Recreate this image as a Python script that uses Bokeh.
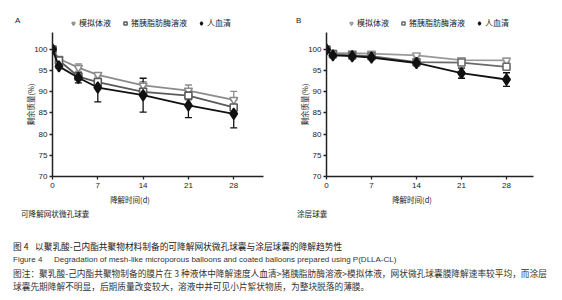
from bokeh.plotting import figure
from bokeh.models import ColumnDataSource, Whisker, Legend, LegendItem, Div, Range1d, FixedTicker, TeeHead
from bokeh.layouts import row, column
from bokeh.embed import file_html
from bokeh.resources import INLINE

days = [0, 1, 4, 7, 14, 21, 28]
series_names = ["模拟体液", "猪胰脂肪酶溶液", "人血清"]
x_ticks = [0, 7, 14, 21, 28]
y_ticks = [70, 75, 80, 85, 90, 95, 100]
x_title = "降解时间(d)"
y_title = "剩余质量(%)"

# Panel A: 可降解网状微孔球囊
a_sim = [100, 97.8, 95.7, 94.0, 91.5, 90.3, 88.1]
a_sim_err = [0, 0.4, 0.9, 0.5, 0.9, 1.3, 2.0]
a_lip = [100, 97.4, 93.6, 92.3, 90.0, 89.1, 86.3]
a_lip_err = [0, 0.4, 0.6, 0.6, 0.8, 1.0, 0.6]
a_ser = [100, 96.0, 93.3, 91.0, 89.2, 86.8, 84.8]
a_ser_err = [0, 0.4, 1.2, 3.4, 4.0, 2.9, 3.3]

# Panel B: 涂层球囊
b_sim = [100, 99.2, 99.1, 99.0, 98.6, 97.5, 97.4]
b_sim_err = [0, 0.2, 0.2, 0.2, 0.3, 0.3, 0.3]
b_lip = [100, 98.9, 98.6, 98.4, 97.0, 96.9, 95.9]
b_lip_err = [0, 0.2, 0.3, 0.3, 0.4, 0.4, 0.4]
b_ser = [100, 98.6, 98.4, 98.1, 96.8, 94.4, 92.9]
b_ser_err = [0, 0.3, 0.3, 0.4, 0.6, 1.2, 1.6]

FONT = "Noto Sans CJK SC"
TXT = "#222222"
CSS_FONT = "font-family:'Noto Sans CJK SC','Liberation Sans',sans-serif;color:#222;"


def make_panel(letter, sub, sim, sim_err, lip, lip_err, ser, ser_err,
               width, left, right, xend, sim_color, lip_color,
               letter_x, leg_x, title_x, sub_x):
    specs = [
        (sim, sim_err, sim_color, "inverted_triangle", "white", 8),
        (lip, lip_err, lip_color, "square", "white", 7),
        (ser, ser_err, "#111111", "diamond", "#111111", 11),
    ]

    # top strip: panel letter (Div) + legend (strip plot with the same series)
    letter_div = Div(width=left, height=32, margin=0, text=(
        f'<div style="{CSS_FONT}font-family:\'Liberation Sans\',sans-serif;font-size:8px;'
        f'line-height:12px;padding:15px 0 0 {letter_x}px;">{letter}</div>'))
    top = figure(width=width - left, height=32, output_backend="svg", toolbar_location=None,
                 x_axis_type=None, y_axis_type=None,
                 min_border_left=0, min_border_right=right, min_border_top=0, min_border_bottom=0,
                 x_range=Range1d(0, xend), y_range=Range1d(0, 1))
    top.outline_line_color = None
    top.grid.visible = False
    top.background_fill_color = "white"
    top.border_fill_color = "white"
    items = []
    for (vals, errs, col, mk, fill, sz), name in zip(specs, series_names):
        # series sit outside this strip's y range, so only the legend glyph shows
        r = top.scatter(x=days, y=vals, marker=mk, size=sz, fill_color=fill,
                        line_color=col, line_width=1.5)
        items.append(LegendItem(label=name, renderers=[r]))
    leg = Legend(items=items, orientation="horizontal", location=(leg_x, 4),
                 background_fill_alpha=0, border_line_color=None,
                 label_text_font=FONT, label_text_font_size="8px",
                 label_text_color=TXT, glyph_width=8, glyph_height=8,
                 label_standoff=2, spacing=10, padding=0, margin=0)
    top.add_layout(leg, "center")

    # main plot
    p = figure(width=width, height=162, output_backend="svg", toolbar_location=None,
               x_range=Range1d(0, xend), y_range=Range1d(70, 104),
               min_border_left=left, min_border_right=right,
               min_border_top=0, min_border_bottom=18)
    p.outline_line_color = None
    p.xgrid.visible = False
    p.ygrid.visible = False
    p.background_fill_color = "white"
    p.border_fill_color = "white"

    for (vals, errs, col, mk, fill, sz) in specs:
        src = ColumnDataSource(dict(
            x=days, y=vals,
            upper=[v + e for v, e in zip(vals, errs)],
            lower=[v - e for v, e in zip(vals, errs)]))
        p.line("x", "y", source=src, line_color=col, line_width=1.8)
        w = Whisker(source=src, base="x", upper="upper", lower="lower",
                    line_color=col, line_width=1.3,
                    upper_head=TeeHead(size=7, line_color=col, line_width=1.3),
                    lower_head=TeeHead(size=7, line_color=col, line_width=1.3))
        p.add_layout(w)
        p.scatter("x", "y", source=src, marker=mk, size=sz, fill_color=fill,
                  line_color=col, line_width=1.6)

    for ax in (p.xaxis[0], p.yaxis[0]):
        ax.axis_line_width = 1.5
        ax.axis_line_color = "#222222"
        ax.major_tick_line_color = "#222222"
        ax.major_tick_line_width = 1.3
        ax.major_tick_out = 3
        ax.major_tick_in = 0
        ax.minor_tick_line_color = None
        ax.major_label_text_font = "Liberation Sans"
        ax.major_label_text_font_size = "8px"
        ax.major_label_text_color = TXT
        ax.axis_label_text_font = FONT
        ax.axis_label_text_font_size = "7.5px"
        ax.axis_label_text_font_style = "normal"
        ax.axis_label_text_color = TXT
    p.xaxis.ticker = FixedTicker(ticks=x_ticks)
    p.yaxis.ticker = FixedTicker(ticks=y_ticks)
    p.yaxis.axis_label = y_title
    p.yaxis.axis_label_standoff = -5
    p.xaxis.major_label_standoff = 3
    p.yaxis.major_label_standoff = 2

    # bottom strip: x title and sub caption
    bot = Div(width=width, height=36, margin=0, text=(
        f'<div style="position:relative;width:{width}px;height:36px;{CSS_FONT}line-height:12px;">'
        f'<div style="position:absolute;left:{title_x - 40}px;top:0px;width:80px;text-align:center;font-size:7.5px;">{x_title}</div>'
        f'<div style="position:absolute;left:{sub_x}px;top:14px;white-space:nowrap;font-size:7.6px;">{sub}</div>'
        f'</div>'))
    return column(row(letter_div, top), p, bot)


pA = make_panel("A", "可降解网状微孔球囊", a_sim, a_sim_err, a_lip, a_lip_err, a_ser, a_ser_err,
                280, 52, 17, 32.6, "#8c8c8c", "#5a5a5a",
                15, 17, 130, 21)
pB = make_panel("B", "涂层球囊", b_sim, b_sim_err, b_lip, b_lip_err, b_ser, b_ser_err,
                282, 46, 29, 32.2, "#9a9a9a", "#6a6a6a",
                16, 21, 132, 17)

caption = Div(width=562, height=70, margin=0, text="""
<div style="font-family:'Noto Sans CJK SC','Liberation Sans',sans-serif;color:#333;font-size:8.7px;line-height:13.3px;padding:10px 0 0 13px;white-space:nowrap;">
<div style="color:#1a1a1a;"><span style="display:inline-block;width:22px;">图 4</span>以聚乳酸-己内酯共聚物材料制备的可降解网状微孔球囊与涂层球囊的降解趋势性</div>
<div style="font-family:'Liberation Sans',sans-serif;font-size:8px;"><span style="display:inline-block;width:41px;">Figure 4</span>Degradation of mesh-like microporous balloons and coated balloons prepared using P(DLLA-CL)</div>
<div>图注：聚乳酸-己内酯共聚物制备的膜片在 3 种液体中降解速度人血清&gt;猪胰脂肪酶溶液&gt;模拟体液，网状微孔球囊膜降解速率较平均，而涂层</div>
<div>球囊先期降解不明显，后期质量改变较大，溶液中并可见小片絮状物质，为整块脱落的薄膜。</div>
</div>""")

layout = column(row(pA, pB), caption)
open("out.html", "w").write(file_html(layout, INLINE))
